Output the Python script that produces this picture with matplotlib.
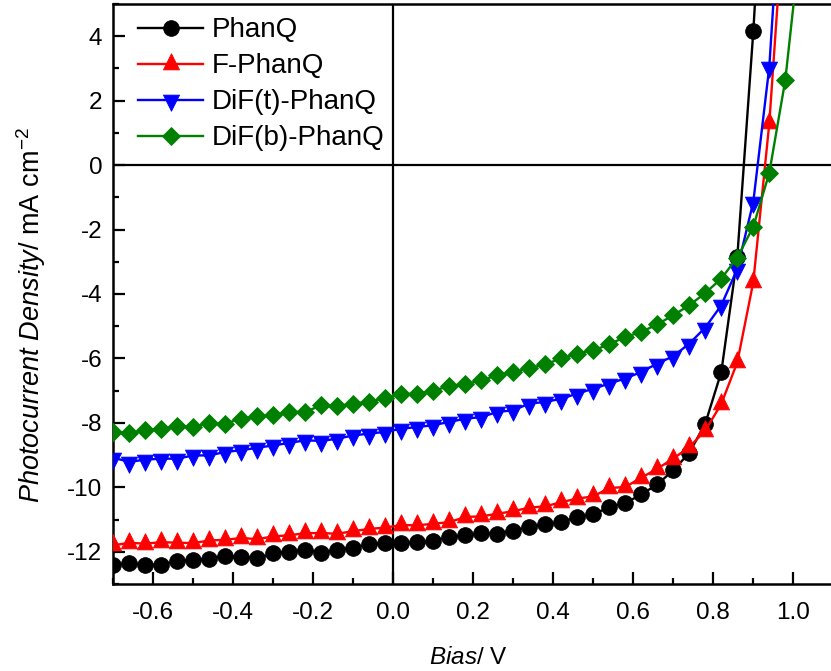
import matplotlib
matplotlib.use("Agg")
import matplotlib.pyplot as plt
from matplotlib.ticker import MultipleLocator

plt.rcParams["font.family"] = ["Liberation Sans", "DejaVu Sans"]
plt.rcParams["mathtext.fontset"] = "custom"
plt.rcParams["mathtext.rm"] = "Liberation Sans"
plt.rcParams["mathtext.it"] = "Liberation Sans:italic"
plt.rcParams["axes.unicode_minus"] = False

# Bias sweep (V)
bias = [-0.70, -0.66, -0.62, -0.58, -0.54, -0.50, -0.46, -0.42, -0.38, -0.34,
        -0.30, -0.26, -0.22, -0.18, -0.14, -0.10, -0.06, -0.02, 0.02, 0.06,
        0.10, 0.14, 0.18, 0.22, 0.26, 0.30, 0.34, 0.38, 0.42, 0.46,
        0.50, 0.54, 0.58, 0.62, 0.66, 0.70, 0.74, 0.78, 0.82, 0.86,
        0.90, 0.94, 0.98, 1.02]

# Photocurrent density (mA cm^-2)
phanq = [-12.40, -12.35, -12.40, -12.40, -12.28, -12.25, -12.22, -12.13, -12.15, -12.20,
         -12.05, -12.00, -11.93, -12.03, -11.93, -11.87, -11.77, -11.73, -11.72, -11.70,
         -11.65, -11.54, -11.49, -11.42, -11.44, -11.34, -11.23, -11.15, -11.08, -10.92,
         -10.84, -10.61, -10.49, -10.22, -9.91, -9.47, -8.93, -8.02, -6.42, -2.85,
         4.15, 12.6]

f_phanq = [-11.80, -11.72, -11.75, -11.70, -11.72, -11.73, -11.65, -11.63, -11.57, -11.61,
           -11.52, -11.49, -11.42, -11.42, -11.44, -11.36, -11.29, -11.25, -11.17, -11.18,
           -11.13, -11.08, -10.92, -10.90, -10.82, -10.74, -10.63, -10.59, -10.46, -10.35,
           -10.28, -10.02, -9.99, -9.70, -9.42, -9.11, -8.75, -8.24, -7.41, -6.12,
           -3.63, 1.30, 8.5]

dif_t_phanq = [-9.08, -9.21, -9.14, -9.11, -9.11, -9.01, -9.01, -8.90, -8.85, -8.77,
               -8.70, -8.62, -8.54, -8.56, -8.49, -8.39, -8.33, -8.28, -8.18, -8.13,
               -8.07, -7.97, -7.87, -7.82, -7.66, -7.61, -7.40, -7.35, -7.25, -7.09,
               -6.94, -6.78, -6.62, -6.42, -6.16, -5.93, -5.54, -5.04, -4.35, -3.22,
               -1.14, 3.05, 10.8]

dif_b_phanq = [-8.28, -8.31, -8.23, -8.18, -8.11, -8.13, -8.00, -8.02, -7.87, -7.80,
               -7.76, -7.66, -7.66, -7.45, -7.48, -7.40, -7.35, -7.22, -7.11, -7.09,
               -7.01, -6.85, -6.80, -6.68, -6.52, -6.42, -6.31, -6.18, -6.00, -5.85,
               -5.75, -5.56, -5.33, -5.18, -4.94, -4.66, -4.35, -3.97, -3.52, -2.87,
               -1.91, -0.24, 2.64, 7.2]

labels = ["PhanQ", "F-PhanQ", "DiF(t)-PhanQ", "DiF(b)-PhanQ"]
colors = ["#000000", "#ff0000", "#0000ff", "#008000"]

# triangles centred on their centroid
tri_up = [(0, 1.0), (-0.75, -0.5), (0.75, -0.5), (0, 1.0)]
tri_down = [(0, -1.0), (-0.75, 0.5), (0.75, 0.5), (0, -1.0)]
markers = ["o", tri_up, tri_down, "D"]
msizes = [11.3, 15.5, 15.5, 9.0]

fig = plt.figure(figsize=(8.31, 6.71), dpi=100)
ax = fig.add_axes([113.3 / 831, 87 / 671, 720 / 831, 580 / 671])

ax.axhline(0, color="black", lw=1.6, zorder=1)
ax.axvline(0, color="black", lw=1.6, zorder=1)

for ys, lab, c, m, ms in zip([phanq, f_phanq, dif_t_phanq, dif_b_phanq],
                             labels, colors, markers, msizes):
    ax.plot(bias[:len(ys)], ys, color=c, lw=1.7, marker=m, ms=ms,
            mec=c, mfc=c, mew=0.6, label=lab, zorder=3)

ax.set_xlim(-0.7, 1.1)
ax.set_ylim(-13, 5)
ax.xaxis.set_minor_locator(MultipleLocator(0.1))
ax.yaxis.set_minor_locator(MultipleLocator(1))
ax.set_xticks([-0.6, -0.4, -0.2, 0.0, 0.2, 0.4, 0.6, 0.8, 1.0])
ax.set_xticklabels(["-0.6", "-0.4", "-0.2", "0.0", "0.2", "0.4", "0.6", "0.8", "1.0"])
ax.set_yticks([-12, -10, -8, -6, -4, -2, 0, 2, 4])
ax.set_yticklabels(["-12", "-10", "-8", "-6", "-4", "-2", "0", "2", "4"])

ax.tick_params(which="both", direction="in", top=False, right=False,
               width=1.6, labelsize=17.5)
ax.tick_params(which="major", length=8.5)
ax.tick_params(which="minor", length=4.5)
ax.tick_params(axis="x", pad=13)
ax.tick_params(axis="y", pad=8)

for side in ["left", "bottom", "top"]:
    ax.spines[side].set_linewidth(1.8)
ax.spines["right"].set_visible(False)

ax.set_xlabel(r"$\mathit{Bias}$/ V", fontsize=17.5)
ax.set_ylabel(r"$\mathit{Photocurrent\ Density}$/ mA cm$^{-2}$", fontsize=19.5)
ax.xaxis.set_label_coords(0.4926, -0.1086)
ax.yaxis.set_label_coords(-0.0906, 0.464)

ax.legend(loc="upper left", bbox_to_anchor=(0.0343, 0.977), frameon=False,
          fontsize=20, handlelength=2.35, handletextpad=0.32, labelspacing=0.36,
          borderaxespad=0, borderpad=0)

fig.savefig("out.png", dpi=100)
